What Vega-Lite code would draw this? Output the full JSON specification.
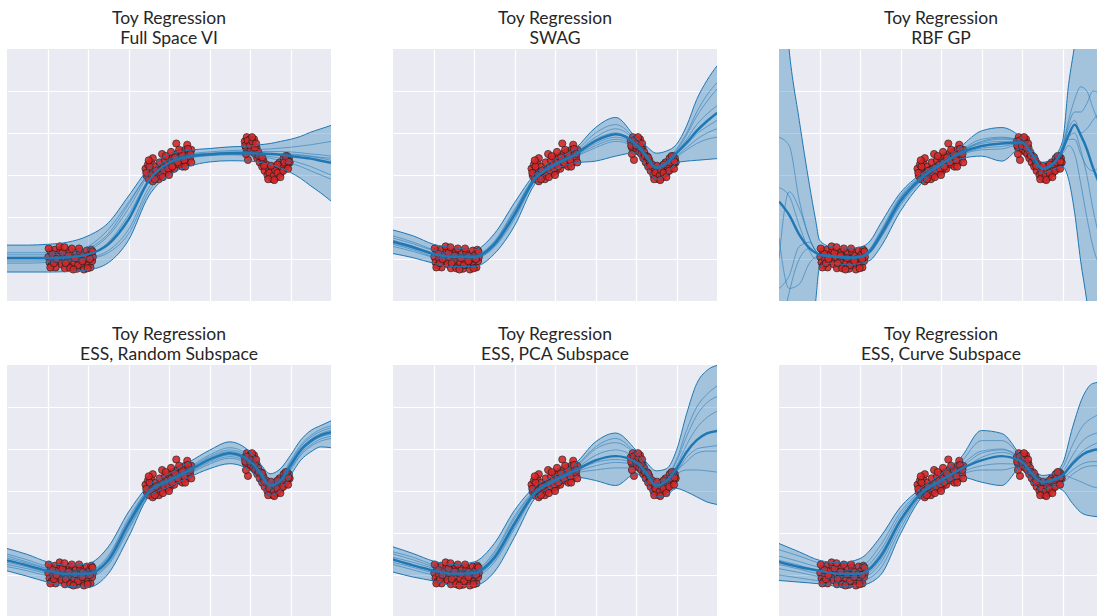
{
"$schema": "https://vega.github.io/schema/vega-lite/v6.json",
"background": "white",
"padding": {"left": 7, "top": 10, "right": 5, "bottom": 5},
"config": {
 "view": {"stroke": null, "fill": "#eaeaf2"},
 "axis": {"labels": false, "ticks": false, "domain": false, "gridColor": "#ffffff", "gridWidth": 1.2, "gridOpacity": 1},
 "title": {"font": "Lato", "fontSize": 17.5, "fontWeight": "normal", "color": "#262626", "lineHeight": 19.5, "offset": 2}
},
"datasets": {
"pts": [
{"x":1.02,"y":1.05},{"x":1.05,"y":0.92},{"x":1.08,"y":1.18},{"x":1.1,"y":0.85},{"x":1.14,"y":1.0},{"x":1.18,"y":1.22},{"x":1.2,"y":0.8},{"x":1.25,"y":1.1},{"x":1.28,"y":0.95},{"x":1.32,"y":1.2},{"x":1.35,"y":0.88},{"x":1.4,"y":1.05},{"x":1.43,"y":0.78},{"x":1.47,"y":1.15},{"x":1.5,"y":0.95},{"x":1.55,"y":1.2},{"x":1.58,"y":0.82},{"x":1.62,"y":1.05},{"x":1.66,"y":0.9},{"x":1.7,"y":1.15},{"x":1.73,"y":0.77},{"x":1.77,"y":1.0},{"x":1.8,"y":1.18},{"x":1.84,"y":0.86},{"x":1.88,"y":1.08},{"x":1.9,"y":0.75},{"x":1.93,"y":0.95},{"x":1.97,"y":1.2},{"x":2.0,"y":0.85},{"x":2.03,"y":1.1},{"x":2.06,"y":0.8},{"x":2.08,"y":1.22},{"x":2.1,"y":0.95},{"x":2.12,"y":1.05},{"x":1.12,"y":1.12},{"x":1.6,"y":1.25},{"x":1.45,"y":0.9},{"x":1.95,"y":1.02},{"x":1.3,"y":1.3},{"x":1.75,"y":0.85},
{"x":1.03,"y":1.25},{"x":1.07,"y":0.8},{"x":1.16,"y":0.9},{"x":1.22,"y":1.0},{"x":1.37,"y":1.15},{"x":1.52,"y":1.08},{"x":1.56,"y":0.78},{"x":1.68,"y":1.02},{"x":1.78,"y":1.25},{"x":1.86,"y":0.95},{"x":1.99,"y":0.78},{"x":2.05,"y":1.0},{"x":2.11,"y":1.18},{"x":1.42,"y":1.28},{"x":1.64,"y":0.75},
{"x":3.42,"y":3.15},{"x":3.45,"y":2.98},{"x":3.48,"y":3.25},{"x":3.5,"y":2.9},{"x":3.53,"y":3.1},{"x":3.56,"y":3.3},{"x":3.6,"y":2.85},{"x":3.63,"y":3.05},{"x":3.66,"y":3.2},{"x":3.7,"y":2.95},{"x":3.73,"y":3.12},{"x":3.77,"y":3.3},{"x":3.8,"y":3.0},{"x":3.83,"y":3.5},{"x":3.86,"y":3.18},{"x":3.9,"y":3.35},{"x":3.93,"y":3.05},{"x":3.96,"y":3.25},{"x":4.0,"y":3.4},{"x":4.03,"y":3.1},{"x":4.06,"y":3.3},{"x":4.1,"y":3.45},{"x":4.13,"y":3.15},{"x":4.16,"y":3.35},{"x":4.18,"y":3.75},{"x":4.2,"y":3.5},{"x":4.24,"y":3.25},{"x":4.27,"y":3.4},{"x":4.3,"y":3.55},{"x":4.33,"y":3.2},{"x":4.36,"y":3.45},{"x":4.4,"y":3.6},{"x":4.43,"y":3.3},{"x":4.45,"y":3.72},{"x":4.48,"y":3.5},{"x":4.52,"y":3.4},{"x":4.55,"y":3.6},{"x":4.05,"y":3.55},{"x":3.6,"y":3.4},
{"x":3.44,"y":3.05},{"x":3.52,"y":3.2},{"x":3.58,"y":3.0},{"x":3.68,"y":3.1},{"x":3.75,"y":2.9},{"x":3.88,"y":3.1},{"x":3.98,"y":3.15},{"x":4.08,"y":3.2},{"x":4.15,"y":3.42},{"x":4.22,"y":3.3},{"x":4.32,"y":3.5},{"x":4.38,"y":3.35},{"x":4.47,"y":3.62},{"x":4.53,"y":3.5},{"x":3.92,"y":3.45},
{"x":3.5,"y":3.35},{"x":3.65,"y":2.9},{"x":3.85,"y":2.95},{"x":4.0,"y":3.0},{"x":4.25,"y":3.6},{"x":4.4,"y":3.2},{"x":4.55,"y":3.3},
{"x":5.87,"y":3.8},{"x":5.9,"y":3.65},{"x":5.92,"y":3.9},{"x":5.95,"y":3.36},{"x":5.97,"y":3.75},{"x":6.0,"y":3.85},{"x":6.02,"y":3.6},{"x":6.05,"y":3.72},{"x":6.08,"y":3.55},{"x":6.1,"y":3.85},{"x":6.13,"y":3.5},{"x":6.16,"y":3.65},{"x":6.18,"y":3.4},{"x":6.2,"y":3.55},{"x":6.24,"y":3.3},{"x":6.27,"y":3.45},{"x":6.3,"y":3.2},{"x":6.33,"y":3.35},{"x":6.36,"y":3.1},{"x":6.4,"y":3.25},{"x":6.43,"y":3.0},{"x":6.46,"y":3.15},{"x":6.5,"y":2.95},{"x":6.53,"y":3.1},{"x":6.56,"y":2.9},{"x":6.6,"y":3.05},{"x":6.63,"y":3.2},{"x":6.66,"y":2.95},{"x":6.7,"y":3.15},{"x":6.73,"y":3.3},{"x":6.76,"y":3.05},{"x":6.8,"y":3.25},{"x":6.83,"y":3.4},{"x":6.86,"y":3.15},{"x":6.9,"y":3.35},{"x":6.93,"y":3.25},{"x":6.96,"y":3.4},{"x":6.98,"y":3.3},
{"x":5.88,"y":3.7},{"x":5.94,"y":3.82},{"x":6.0,"y":3.7},{"x":6.06,"y":3.8},{"x":6.12,"y":3.65},{"x":6.22,"y":3.45},{"x":6.35,"y":3.22},{"x":6.48,"y":3.05},{"x":6.58,"y":2.98},{"x":6.62,"y":3.12},{"x":6.68,"y":3.05},{"x":6.78,"y":3.2},{"x":6.85,"y":3.3},{"x":6.92,"y":3.45},{"x":6.95,"y":3.32},
{"x":6.45,"y":2.9},{"x":6.52,"y":3.22},{"x":6.6,"y":2.88},{"x":6.68,"y":3.25},{"x":6.75,"y":2.95},{"x":6.82,"y":3.1},{"x":6.88,"y":3.45},{"x":6.94,"y":3.15},{"x":6.3,"y":3.42},{"x":6.15,"y":3.75},{"x":6.05,"y":3.9},{"x":5.9,"y":3.5}
],
"c1": [
{"x":0,"lo":0.69,"hi":1.33,"m":1.02,"s1":1.05,"s2":0.95,"s3":1.1,"s4":0.9,"s5":1.0,"s6":1.15},
{"x":0.5,"lo":0.69,"hi":1.33,"m":1.02,"s1":1.05,"s2":0.95,"s3":1.1,"s4":0.9,"s5":1.0,"s6":1.15},
{"x":1,"lo":0.69,"hi":1.35,"m":1.02,"s1":1.05,"s2":0.96,"s3":1.1,"s4":0.92,"s5":1.0,"s6":1.15},
{"x":1.5,"lo":0.7,"hi":1.4,"m":1.04,"s1":1.08,"s2":0.98,"s3":1.12,"s4":0.95,"s5":1.02,"s6":1.17},
{"x":2,"lo":0.74,"hi":1.55,"m":1.11,"s1":1.2,"s2":1.03,"s3":1.25,"s4":1.0,"s5":1.1,"s6":1.3},
{"x":2.5,"lo":0.91,"hi":1.86,"m":1.35,"s1":1.55,"s2":1.2,"s3":1.6,"s4":1.15,"s5":1.4,"s6":1.7},
{"x":3,"lo":1.45,"hi":2.5,"m":1.94,"s1":2.2,"s2":1.7,"s3":2.3,"s4":1.6,"s5":2.05,"s6":2.35},
{"x":3.5,"lo":2.5,"hi":3.15,"m":2.86,"s1":3.0,"s2":2.7,"s3":3.05,"s4":2.6,"s5":2.9,"s6":3.02},
{"x":4,"lo":3.0,"hi":3.49,"m":3.29,"s1":3.35,"s2":3.25,"s3":3.38,"s4":3.2,"s5":3.3,"s6":3.36},
{"x":4.5,"lo":3.21,"hi":3.59,"m":3.44,"s1":3.48,"s2":3.42,"s3":3.5,"s4":3.4,"s5":3.45,"s6":3.46},
{"x":5,"lo":3.31,"hi":3.63,"m":3.49,"s1":3.52,"s2":3.47,"s3":3.55,"s4":3.46,"s5":3.5,"s6":3.5},
{"x":5.5,"lo":3.34,"hi":3.67,"m":3.52,"s1":3.55,"s2":3.49,"s3":3.58,"s4":3.48,"s5":3.53,"s6":3.5},
{"x":6,"lo":3.33,"hi":3.69,"m":3.52,"s1":3.56,"s2":3.48,"s3":3.6,"s4":3.46,"s5":3.54,"s6":3.5},
{"x":6.25,"lo":3.3,"hi":3.72,"m":3.51,"s1":3.56,"s2":3.46,"s3":3.61,"s4":3.43,"s5":3.53,"s6":3.5},
{"x":6.5,"lo":3.25,"hi":3.75,"m":3.5,"s1":3.56,"s2":3.44,"s3":3.62,"s4":3.4,"s5":3.52,"s6":3.5},
{"x":6.75,"lo":3.17,"hi":3.8,"m":3.48,"s1":3.56,"s2":3.4,"s3":3.64,"s4":3.34,"s5":3.51,"s6":3.49},
{"x":7,"lo":3.06,"hi":3.85,"m":3.45,"s1":3.55,"s2":3.35,"s3":3.66,"s4":3.28,"s5":3.5,"s6":3.48},
{"x":7.25,"lo":2.92,"hi":3.92,"m":3.42,"s1":3.53,"s2":3.28,"s3":3.69,"s4":3.2,"s5":3.48,"s6":3.46},
{"x":7.5,"lo":2.74,"hi":4.02,"m":3.39,"s1":3.5,"s2":3.2,"s3":3.72,"s4":3.1,"s5":3.45,"s6":3.44},
{"x":7.75,"lo":2.57,"hi":4.1,"m":3.34,"s1":3.48,"s2":3.1,"s3":3.76,"s4":3.0,"s5":3.42,"s6":3.4},
{"x":8,"lo":2.38,"hi":4.18,"m":3.29,"s1":3.45,"s2":3.0,"s3":3.8,"s4":2.9,"s5":3.4,"s6":3.35}
],
"c2": [
{"x":0,"lo":1.13,"hi":1.69,"m":1.41,"s1":1.5,"s2":1.35,"s3":1.45,"s4":1.3,"s5":1.55,"s6":1.38},
{"x":0.5,"lo":1.03,"hi":1.55,"m":1.28,"s1":1.36,"s2":1.22,"s3":1.3,"s4":1.18,"s5":1.4,"s6":1.25},
{"x":1,"lo":0.9,"hi":1.35,"m":1.12,"s1":1.2,"s2":1.06,"s3":1.15,"s4":1.04,"s5":1.22,"s6":1.1},
{"x":1.5,"lo":0.82,"hi":1.27,"m":1.05,"s1":1.1,"s2":1.0,"s3":1.08,"s4":0.98,"s5":1.12,"s6":1.04},
{"x":2,"lo":0.82,"hi":1.22,"m":1.05,"s1":1.08,"s2":1.02,"s3":1.07,"s4":1.0,"s5":1.1,"s6":1.04},
{"x":2.5,"lo":1.12,"hi":1.6,"m":1.35,"s1":1.38,"s2":1.3,"s3":1.4,"s4":1.28,"s5":1.42,"s6":1.33},
{"x":3,"lo":1.79,"hi":2.34,"m":2.06,"s1":2.1,"s2":2.0,"s3":2.15,"s4":1.95,"s5":2.18,"s6":2.04},
{"x":3.5,"lo":2.78,"hi":3.02,"m":2.9,"s1":2.93,"s2":2.88,"s3":2.95,"s4":2.85,"s5":2.96,"s6":2.9},
{"x":4,"lo":3.13,"hi":3.37,"m":3.25,"s1":3.27,"s2":3.22,"s3":3.28,"s4":3.2,"s5":3.3,"s6":3.24},
{"x":4.5,"lo":3.29,"hi":3.63,"m":3.49,"s1":3.52,"s2":3.45,"s3":3.5,"s4":3.43,"s5":3.56,"s6":3.47},
{"x":5,"lo":3.33,"hi":4.13,"m":3.81,"s1":3.9,"s2":3.7,"s3":3.85,"s4":3.65,"s5":4.0,"s6":3.75},
{"x":5.5,"lo":3.45,"hi":4.37,"m":3.97,"s1":4.1,"s2":3.85,"s3":4.0,"s4":3.8,"s5":4.2,"s6":3.9},
{"x":6,"lo":3.53,"hi":3.89,"m":3.73,"s1":3.8,"s2":3.68,"s3":3.75,"s4":3.65,"s5":3.82,"s6":3.7},
{"x":6.25,"lo":3.21,"hi":3.69,"m":3.45,"s1":3.5,"s2":3.42,"s3":3.47,"s4":3.4,"s5":3.52,"s6":3.44},
{"x":6.5,"lo":2.9,"hi":3.52,"m":3.17,"s1":3.2,"s2":3.14,"s3":3.18,"s4":3.12,"s5":3.22,"s6":3.16},
{"x":6.75,"lo":3.02,"hi":3.57,"m":3.28,"s1":3.32,"s2":3.24,"s3":3.3,"s4":3.22,"s5":3.35,"s6":3.27},
{"x":7,"lo":3.29,"hi":3.73,"m":3.52,"s1":3.58,"s2":3.46,"s3":3.55,"s4":3.42,"s5":3.62,"s6":3.5},
{"x":7.25,"lo":3.33,"hi":4.17,"m":3.77,"s1":3.95,"s2":3.65,"s3":3.85,"s4":3.6,"s5":4.0,"s6":3.72},
{"x":7.5,"lo":3.35,"hi":4.8,"m":4.05,"s1":4.4,"s2":3.85,"s3":4.2,"s4":3.75,"s5":4.5,"s6":3.98},
{"x":7.75,"lo":3.37,"hi":5.25,"m":4.28,"s1":4.75,"s2":4.0,"s3":4.45,"s4":3.85,"s5":4.9,"s6":4.15},
{"x":8,"lo":3.39,"hi":5.6,"m":4.48,"s1":5.05,"s2":4.1,"s3":4.65,"s4":3.9,"s5":5.2,"s6":4.3}
],
"c3": [
{"x":0,"lo":-9,"hi":9,"m":2.37,"s1":3.9,"s2":1.0,"s3":0.3,"s4":2.7,"s5":1.5,"s6":-1.0},
{"x":0.25,"lo":-6,"hi":5.98,"m":2.05,"s1":3.7,"s2":2.6,"s3":0.6,"s4":2.5,"s5":0.3,"s6":0.2},
{"x":0.5,"lo":-3,"hi":4.3,"m":1.58,"s1":2.4,"s2":2.2,"s3":1.3,"s4":1.8,"s5":0.4,"s6":1.0},
{"x":0.75,"lo":-1,"hi":2.77,"m":1.26,"s1":1.5,"s2":1.5,"s3":1.4,"s4":1.2,"s5":0.9,"s6":1.25},
{"x":0.9,"lo":-0.05,"hi":1.95,"m":1.15,"s1":1.2,"s2":1.2,"s3":1.2,"s4":1.0,"s5":1.05,"s6":1.15},
{"x":1,"lo":0.8,"hi":1.45,"m":1.1,"s1":1.1,"s2":1.12,"s3":1.08,"s4":1.02,"s5":1.08,"s6":1.1},
{"x":1.25,"lo":0.9,"hi":1.3,"m":1.07,"s1":1.1,"s2":1.04,"s3":1.08,"s4":1.05,"s5":1.06,"s6":1.09},
{"x":1.5,"lo":0.88,"hi":1.27,"m":1.05,"s1":1.08,"s2":1.02,"s3":1.06,"s4":1.03,"s5":1.04,"s6":1.07},
{"x":1.75,"lo":0.86,"hi":1.26,"m":1.03,"s1":1.06,"s2":1.0,"s3":1.04,"s4":1.01,"s5":1.02,"s6":1.05},
{"x":2,"lo":0.9,"hi":1.28,"m":1.05,"s1":1.08,"s2":1.02,"s3":1.06,"s4":1.04,"s5":1.05,"s6":1.07},
{"x":2.25,"lo":0.97,"hi":1.43,"m":1.19,"s1":1.25,"s2":1.14,"s3":1.22,"s4":1.16,"s5":1.2,"s6":1.24},
{"x":2.5,"lo":1.27,"hi":1.83,"m":1.55,"s1":1.65,"s2":1.48,"s3":1.6,"s4":1.5,"s5":1.58,"s6":1.62},
{"x":3,"lo":2.14,"hi":2.58,"m":2.38,"s1":2.5,"s2":2.28,"s3":2.44,"s4":2.32,"s5":2.42,"s6":2.46},
{"x":3.5,"lo":2.78,"hi":3.02,"m":2.91,"s1":2.98,"s2":2.85,"s3":2.95,"s4":2.88,"s5":2.93,"s6":2.96},
{"x":4,"lo":3.17,"hi":3.31,"m":3.25,"s1":3.28,"s2":3.22,"s3":3.27,"s4":3.23,"s5":3.26,"s6":3.27},
{"x":4.5,"lo":3.39,"hi":3.69,"m":3.53,"s1":3.6,"s2":3.48,"s3":3.57,"s4":3.5,"s5":3.56,"s6":3.58},
{"x":5,"lo":3.45,"hi":4.05,"m":3.69,"s1":3.85,"s2":3.6,"s3":3.78,"s4":3.64,"s5":3.75,"s6":3.8},
{"x":5.5,"lo":3.33,"hi":4.13,"m":3.75,"s1":3.9,"s2":3.62,"s3":3.85,"s4":3.68,"s5":3.8,"s6":3.88},
{"x":6,"lo":3.65,"hi":3.87,"m":3.77,"s1":3.8,"s2":3.74,"s3":3.79,"s4":3.75,"s5":3.78,"s6":3.8},
{"x":6.25,"lo":3.37,"hi":3.61,"m":3.49,"s1":3.52,"s2":3.46,"s3":3.5,"s4":3.47,"s5":3.49,"s6":3.51},
{"x":6.5,"lo":3.04,"hi":3.3,"m":3.15,"s1":3.18,"s2":3.12,"s3":3.16,"s4":3.13,"s5":3.15,"s6":3.17},
{"x":6.75,"lo":3.13,"hi":3.4,"m":3.25,"s1":3.3,"s2":3.2,"s3":3.27,"s4":3.22,"s5":3.24,"s6":3.28},
{"x":7,"lo":3.2,"hi":3.8,"m":3.6,"s1":3.7,"s2":3.55,"s3":3.65,"s4":3.55,"s5":3.5,"s6":3.6},
{"x":7.15,"lo":2.9,"hi":5.15,"m":3.95,"s1":4.3,"s2":3.9,"s3":4.2,"s4":3.85,"s5":3.7,"s6":4.1},
{"x":7.3,"lo":2.1,"hi":6.1,"m":4.2,"s1":4.8,"s2":4.0,"s3":4.5,"s4":3.85,"s5":3.5,"s6":4.3},
{"x":7.45,"lo":0.94,"hi":7.2,"m":3.95,"s1":5.1,"s2":3.6,"s3":4.5,"s4":3.5,"s5":2.8,"s6":4.0},
{"x":7.6,"lo":0.0,"hi":8.3,"m":3.62,"s1":5.0,"s2":3.0,"s3":4.7,"s4":3.2,"s5":2.0,"s6":4.1},
{"x":7.75,"lo":-1.2,"hi":9.3,"m":3.18,"s1":4.6,"s2":2.2,"s3":5.0,"s4":3.1,"s5":1.3,"s6":4.3},
{"x":8,"lo":-3,"hi":10.5,"m":2.6,"s1":4.0,"s2":1.2,"s3":4.9,"s4":3.3,"s5":0.7,"s6":4.6}
],
"c4": [
{"x":0,"lo":1.1,"hi":1.63,"m":1.35,"s1":1.45,"s2":1.25,"s3":1.4,"s4":1.3,"s5":1.5,"s6":1.2},
{"x":0.5,"lo":0.97,"hi":1.49,"m":1.23,"s1":1.31,"s2":1.15,"s3":1.28,"s4":1.19,"s5":1.36,"s6":1.1},
{"x":1,"lo":0.83,"hi":1.31,"m":1.1,"s1":1.16,"s2":1.03,"s3":1.14,"s4":1.06,"s5":1.2,"s6":0.98},
{"x":1.5,"lo":0.73,"hi":1.23,"m":1.02,"s1":1.07,"s2":0.96,"s3":1.05,"s4":0.99,"s5":1.1,"s6":0.92},
{"x":2,"lo":0.71,"hi":1.27,"m":1.03,"s1":1.08,"s2":0.97,"s3":1.06,"s4":1.0,"s5":1.1,"s6":0.94},
{"x":2.5,"lo":1.03,"hi":1.67,"m":1.35,"s1":1.42,"s2":1.28,"s3":1.38,"s4":1.32,"s5":1.46,"s6":1.24},
{"x":3,"lo":1.9,"hi":2.5,"m":2.22,"s1":2.3,"s2":2.12,"s3":2.27,"s4":2.17,"s5":2.35,"s6":2.07},
{"x":3.5,"lo":2.86,"hi":3.13,"m":2.98,"s1":3.03,"s2":2.93,"s3":3.0,"s4":2.96,"s5":3.05,"s6":2.9},
{"x":4,"lo":3.1,"hi":3.41,"m":3.25,"s1":3.29,"s2":3.2,"s3":3.28,"s4":3.22,"s5":3.32,"s6":3.18},
{"x":4.5,"lo":3.33,"hi":3.69,"m":3.49,"s1":3.54,"s2":3.44,"s3":3.52,"s4":3.46,"s5":3.57,"s6":3.41},
{"x":5,"lo":3.53,"hi":3.97,"m":3.75,"s1":3.82,"s2":3.68,"s3":3.79,"s4":3.71,"s5":3.86,"s6":3.64},
{"x":5.5,"lo":3.65,"hi":4.17,"m":3.9,"s1":3.98,"s2":3.82,"s3":3.94,"s4":3.86,"s5":4.03,"s6":3.78},
{"x":6,"lo":3.49,"hi":3.93,"m":3.71,"s1":3.78,"s2":3.64,"s3":3.75,"s4":3.67,"s5":3.82,"s6":3.6},
{"x":6.25,"lo":3.21,"hi":3.65,"m":3.43,"s1":3.5,"s2":3.36,"s3":3.47,"s4":3.39,"s5":3.54,"s6":3.32},
{"x":6.5,"lo":2.9,"hi":3.41,"m":3.13,"s1":3.2,"s2":3.06,"s3":3.17,"s4":3.1,"s5":3.24,"s6":3.02},
{"x":6.75,"lo":3.02,"hi":3.53,"m":3.24,"s1":3.3,"s2":3.17,"s3":3.28,"s4":3.2,"s5":3.34,"s6":3.13},
{"x":7,"lo":3.37,"hi":3.85,"m":3.61,"s1":3.68,"s2":3.53,"s3":3.65,"s4":3.57,"s5":3.72,"s6":3.49},
{"x":7.25,"lo":3.73,"hi":4.21,"m":3.97,"s1":4.05,"s2":3.89,"s3":4.01,"s4":3.93,"s5":4.09,"s6":3.85},
{"x":7.5,"lo":3.93,"hi":4.44,"m":4.19,"s1":4.28,"s2":4.1,"s3":4.23,"s4":4.15,"s5":4.32,"s6":4.06},
{"x":7.75,"lo":4.05,"hi":4.56,"m":4.33,"s1":4.42,"s2":4.24,"s3":4.37,"s4":4.29,"s5":4.47,"s6":4.19},
{"x":8,"lo":4.03,"hi":4.67,"m":4.4,"s1":4.5,"s2":4.3,"s3":4.45,"s4":4.35,"s5":4.55,"s6":4.25}
],
"c5": [
{"x":0,"lo":1.07,"hi":1.67,"m":1.37,"s1":1.5,"s2":1.25,"s3":1.42,"s4":1.3,"s5":1.55,"s6":1.35},
{"x":0.5,"lo":0.95,"hi":1.51,"m":1.23,"s1":1.36,"s2":1.12,"s3":1.3,"s4":1.18,"s5":1.42,"s6":1.22},
{"x":1,"lo":0.86,"hi":1.33,"m":1.11,"s1":1.2,"s2":1.0,"s3":1.16,"s4":1.05,"s5":1.24,"s6":1.08},
{"x":1.5,"lo":0.75,"hi":1.25,"m":1.03,"s1":1.1,"s2":0.94,"s3":1.07,"s4":0.98,"s5":1.13,"s6":1.0},
{"x":2,"lo":0.75,"hi":1.31,"m":1.05,"s1":1.1,"s2":0.96,"s3":1.08,"s4":1.0,"s5":1.12,"s6":1.02},
{"x":2.5,"lo":1.07,"hi":1.75,"m":1.41,"s1":1.5,"s2":1.3,"s3":1.45,"s4":1.35,"s5":1.55,"s6":1.38},
{"x":3,"lo":1.9,"hi":2.54,"m":2.22,"s1":2.35,"s2":2.1,"s3":2.28,"s4":2.15,"s5":2.4,"s6":2.2},
{"x":3.5,"lo":2.82,"hi":3.1,"m":2.95,"s1":3.0,"s2":2.9,"s3":2.98,"s4":2.92,"s5":3.02,"s6":2.94},
{"x":4,"lo":3.13,"hi":3.37,"m":3.25,"s1":3.3,"s2":3.2,"s3":3.28,"s4":3.22,"s5":3.32,"s6":3.24},
{"x":4.5,"lo":3.33,"hi":3.65,"m":3.49,"s1":3.55,"s2":3.42,"s3":3.52,"s4":3.45,"s5":3.58,"s6":3.47},
{"x":5,"lo":3.25,"hi":4.17,"m":3.73,"s1":4.0,"s2":3.5,"s3":3.85,"s4":3.6,"s5":4.05,"s6":3.68},
{"x":5.5,"lo":3.13,"hi":4.38,"m":3.83,"s1":4.15,"s2":3.55,"s3":3.98,"s4":3.68,"s5":4.25,"s6":3.75},
{"x":6,"lo":3.41,"hi":3.97,"m":3.69,"s1":3.85,"s2":3.55,"s3":3.76,"s4":3.62,"s5":3.88,"s6":3.65},
{"x":6.25,"lo":3.21,"hi":3.69,"m":3.43,"s1":3.55,"s2":3.35,"s3":3.48,"s4":3.38,"s5":3.58,"s6":3.4},
{"x":6.5,"lo":2.86,"hi":3.48,"m":3.13,"s1":3.2,"s2":3.08,"s3":3.16,"s4":3.1,"s5":3.22,"s6":3.12},
{"x":6.75,"lo":2.9,"hi":3.53,"m":3.24,"s1":3.32,"s2":3.16,"s3":3.28,"s4":3.2,"s5":3.34,"s6":3.22},
{"x":7,"lo":3.06,"hi":3.97,"m":3.53,"s1":3.7,"s2":3.4,"s3":3.6,"s4":3.45,"s5":3.75,"s6":3.48},
{"x":7.25,"lo":2.98,"hi":4.84,"m":3.93,"s1":4.3,"s2":3.5,"s3":4.1,"s4":3.8,"s5":4.45,"s6":3.7},
{"x":7.5,"lo":2.86,"hi":5.56,"m":4.21,"s1":4.8,"s2":3.5,"s3":4.5,"s4":4.0,"s5":5.0,"s6":3.9},
{"x":7.75,"lo":2.74,"hi":5.87,"m":4.37,"s1":5.1,"s2":3.48,"s3":4.75,"s4":4.05,"s5":5.3,"s6":3.95},
{"x":8,"lo":2.68,"hi":5.99,"m":4.43,"s1":5.25,"s2":3.45,"s3":4.9,"s4":4.08,"s5":5.5,"s6":3.95}
],
"c6": [
{"x":0,"lo":0.87,"hi":1.75,"m":1.31,"s1":1.6,"s2":1.0,"s3":1.45,"s4":1.15,"s5":1.25,"s6":1.35},
{"x":0.5,"lo":0.83,"hi":1.55,"m":1.19,"s1":1.45,"s2":0.93,"s3":1.32,"s4":1.06,"s5":1.14,"s6":1.23},
{"x":1,"lo":0.79,"hi":1.35,"m":1.1,"s1":1.28,"s2":0.86,"s3":1.18,"s4":0.96,"s5":1.02,"s6":1.1},
{"x":1.5,"lo":0.73,"hi":1.29,"m":1.03,"s1":1.18,"s2":0.82,"s3":1.1,"s4":0.9,"s5":0.96,"s6":1.03},
{"x":2,"lo":0.75,"hi":1.39,"m":1.03,"s1":1.2,"s2":0.85,"s3":1.12,"s4":0.92,"s5":0.97,"s6":1.05},
{"x":2.5,"lo":0.99,"hi":1.9,"m":1.43,"s1":1.7,"s2":1.15,"s3":1.58,"s4":1.27,"s5":1.35,"s6":1.5},
{"x":3,"lo":1.98,"hi":2.62,"m":2.3,"s1":2.5,"s2":2.1,"s3":2.42,"s4":2.2,"s5":2.27,"s6":2.35},
{"x":3.5,"lo":2.82,"hi":3.06,"m":2.94,"s1":3.0,"s2":2.88,"s3":2.98,"s4":2.9,"s5":2.92,"s6":2.95},
{"x":4,"lo":3.13,"hi":3.41,"m":3.25,"s1":3.35,"s2":3.18,"s3":3.3,"s4":3.2,"s5":3.23,"s6":3.27},
{"x":4.5,"lo":3.33,"hi":3.81,"m":3.53,"s1":3.7,"s2":3.4,"s3":3.62,"s4":3.45,"s5":3.5,"s6":3.56},
{"x":5,"lo":3.21,"hi":4.44,"m":3.73,"s1":4.2,"s2":3.5,"s3":3.95,"s4":3.6,"s5":3.8,"s6":3.9},
{"x":5.5,"lo":3.13,"hi":4.37,"m":3.83,"s1":4.2,"s2":3.5,"s3":4.0,"s4":3.65,"s5":3.92,"s6":3.98},
{"x":6,"lo":3.57,"hi":3.81,"m":3.69,"s1":3.78,"s2":3.6,"s3":3.74,"s4":3.63,"s5":3.7,"s6":3.72},
{"x":6.25,"lo":3.21,"hi":3.57,"m":3.4,"s1":3.5,"s2":3.3,"s3":3.46,"s4":3.35,"s5":3.42,"s6":3.44},
{"x":6.5,"lo":3.02,"hi":3.37,"m":3.21,"s1":3.3,"s2":3.08,"s3":3.25,"s4":3.15,"s5":3.2,"s6":3.22},
{"x":6.75,"lo":3.1,"hi":3.41,"m":3.25,"s1":3.35,"s2":3.15,"s3":3.3,"s4":3.2,"s5":3.26,"s6":3.28},
{"x":7,"lo":3.02,"hi":3.65,"m":3.37,"s1":3.55,"s2":3.2,"s3":3.45,"s4":3.3,"s5":3.4,"s6":3.38},
{"x":7.25,"lo":2.7,"hi":4.52,"m":3.65,"s1":4.1,"s2":3.4,"s3":3.85,"s4":3.5,"s5":3.7,"s6":3.3},
{"x":7.5,"lo":2.46,"hi":5.24,"m":3.87,"s1":4.55,"s2":3.55,"s3":4.2,"s4":3.65,"s5":3.95,"s6":3.2},
{"x":7.75,"lo":2.4,"hi":5.56,"m":3.97,"s1":4.75,"s2":3.6,"s3":4.35,"s4":3.7,"s5":4.1,"s6":3.1},
{"x":8,"lo":2.38,"hi":5.6,"m":4.0,"s1":4.85,"s2":3.6,"s3":4.4,"s4":3.7,"s5":4.2,"s6":3.05}
]
},
"columns": 3,
"spacing": {"row": 25, "column": 62},
"concat": [
{"title": {"text": ["Toy Regression", "Full Space VI"]}, "width": 324, "height": 252,
 "encoding": {"x": {"field": "x", "type": "quantitative", "scale": {"domain": [0, 8]}, "axis": {"values": [1,2,3,4,5,6,7], "title": null}}},
 "layer": [
  {"data": {"name": "c1"}, "mark": {"type": "area", "interpolate": "monotone", "color": "#1f77b4", "opacity": 0.35, "clip": true}, "encoding": {"y": {"field": "lo", "type": "quantitative", "scale": {"domain": [0, 6]}, "axis": {"values": [1,2,3,4,5], "title": null}}, "y2": {"field": "hi"}}},
  {"data": {"name": "pts"}, "mark": {"type": "circle", "size": 52, "color": "#d62728", "opacity": 0.9, "stroke": "#222222", "strokeWidth": 0.8, "clip": true}, "encoding": {"y": {"field": "y", "type": "quantitative", "scale": {"domain": [0, 6]}, "axis": {"values": [1,2,3,4,5], "title": null}}}},
  {"data": {"name": "c1"}, "transform": [{"fold": ["s1","s2","s3","s4","s5","s6"]}], "mark": {"type": "line", "interpolate": "monotone", "color": "#1f77b4", "opacity": 0.55, "strokeWidth": 1, "clip": true}, "encoding": {"y": {"field": "value", "type": "quantitative", "scale": {"domain": [0, 6]}, "axis": {"values": [1,2,3,4,5], "title": null}}, "detail": {"field": "key", "type": "nominal"}}},
  {"data": {"name": "c1"}, "transform": [{"fold": ["lo","hi"]}], "mark": {"type": "line", "interpolate": "monotone", "color": "#1f77b4", "strokeWidth": 1, "clip": true}, "encoding": {"y": {"field": "value", "type": "quantitative", "scale": {"domain": [0, 6]}, "axis": {"values": [1,2,3,4,5], "title": null}}, "detail": {"field": "key", "type": "nominal"}}},
  {"data": {"name": "c1"}, "mark": {"type": "line", "interpolate": "monotone", "color": "#1f77b4", "strokeWidth": 2.4, "clip": true}, "encoding": {"y": {"field": "m", "type": "quantitative", "scale": {"domain": [0, 6]}, "axis": {"values": [1,2,3,4,5], "title": null}}}}
 ]},
{"title": {"text": ["Toy Regression", "SWAG"]}, "width": 324, "height": 252,
 "encoding": {"x": {"field": "x", "type": "quantitative", "scale": {"domain": [0, 8]}, "axis": {"values": [1,2,3,4,5,6,7], "title": null}}},
 "layer": [
  {"data": {"name": "c2"}, "mark": {"type": "area", "interpolate": "monotone", "color": "#1f77b4", "opacity": 0.35, "clip": true}, "encoding": {"y": {"field": "lo", "type": "quantitative", "scale": {"domain": [0, 6]}, "axis": {"values": [1,2,3,4,5], "title": null}}, "y2": {"field": "hi"}}},
  {"data": {"name": "pts"}, "mark": {"type": "circle", "size": 52, "color": "#d62728", "opacity": 0.9, "stroke": "#222222", "strokeWidth": 0.8, "clip": true}, "encoding": {"y": {"field": "y", "type": "quantitative", "scale": {"domain": [0, 6]}, "axis": {"values": [1,2,3,4,5], "title": null}}}},
  {"data": {"name": "c2"}, "transform": [{"fold": ["s1","s2","s3","s4","s5","s6"]}], "mark": {"type": "line", "interpolate": "monotone", "color": "#1f77b4", "opacity": 0.55, "strokeWidth": 1, "clip": true}, "encoding": {"y": {"field": "value", "type": "quantitative", "scale": {"domain": [0, 6]}, "axis": {"values": [1,2,3,4,5], "title": null}}, "detail": {"field": "key", "type": "nominal"}}},
  {"data": {"name": "c2"}, "transform": [{"fold": ["lo","hi"]}], "mark": {"type": "line", "interpolate": "monotone", "color": "#1f77b4", "strokeWidth": 1, "clip": true}, "encoding": {"y": {"field": "value", "type": "quantitative", "scale": {"domain": [0, 6]}, "axis": {"values": [1,2,3,4,5], "title": null}}, "detail": {"field": "key", "type": "nominal"}}},
  {"data": {"name": "c2"}, "mark": {"type": "line", "interpolate": "monotone", "color": "#1f77b4", "strokeWidth": 2.4, "clip": true}, "encoding": {"y": {"field": "m", "type": "quantitative", "scale": {"domain": [0, 6]}, "axis": {"values": [1,2,3,4,5], "title": null}}}}
 ]},
{"title": {"text": ["Toy Regression", "RBF GP"]}, "width": 324, "height": 252,
 "encoding": {"x": {"field": "x", "type": "quantitative", "scale": {"domain": [0, 8]}, "axis": {"values": [1,2,3,4,5,6,7], "title": null}}},
 "layer": [
  {"data": {"name": "c3"}, "mark": {"type": "area", "interpolate": "monotone", "color": "#1f77b4", "opacity": 0.35, "clip": true}, "encoding": {"y": {"field": "lo", "type": "quantitative", "scale": {"domain": [0, 6]}, "axis": {"values": [1,2,3,4,5], "title": null}}, "y2": {"field": "hi"}}},
  {"data": {"name": "pts"}, "mark": {"type": "circle", "size": 52, "color": "#d62728", "opacity": 0.9, "stroke": "#222222", "strokeWidth": 0.8, "clip": true}, "encoding": {"y": {"field": "y", "type": "quantitative", "scale": {"domain": [0, 6]}, "axis": {"values": [1,2,3,4,5], "title": null}}}},
  {"data": {"name": "c3"}, "transform": [{"fold": ["s1","s2","s3","s4","s5","s6"]}], "mark": {"type": "line", "interpolate": "monotone", "color": "#1f77b4", "opacity": 0.55, "strokeWidth": 1, "clip": true}, "encoding": {"y": {"field": "value", "type": "quantitative", "scale": {"domain": [0, 6]}, "axis": {"values": [1,2,3,4,5], "title": null}}, "detail": {"field": "key", "type": "nominal"}}},
  {"data": {"name": "c3"}, "transform": [{"fold": ["lo","hi"]}], "mark": {"type": "line", "interpolate": "monotone", "color": "#1f77b4", "strokeWidth": 1, "clip": true}, "encoding": {"y": {"field": "value", "type": "quantitative", "scale": {"domain": [0, 6]}, "axis": {"values": [1,2,3,4,5], "title": null}}, "detail": {"field": "key", "type": "nominal"}}},
  {"data": {"name": "c3"}, "mark": {"type": "line", "interpolate": "monotone", "color": "#1f77b4", "strokeWidth": 2.4, "clip": true}, "encoding": {"y": {"field": "m", "type": "quantitative", "scale": {"domain": [0, 6]}, "axis": {"values": [1,2,3,4,5], "title": null}}}}
 ]},
{"title": {"text": ["Toy Regression", "ESS, Random Subspace"]}, "width": 324, "height": 252,
 "encoding": {"x": {"field": "x", "type": "quantitative", "scale": {"domain": [0, 8]}, "axis": {"values": [1,2,3,4,5,6,7], "title": null}}},
 "layer": [
  {"data": {"name": "c4"}, "mark": {"type": "area", "interpolate": "monotone", "color": "#1f77b4", "opacity": 0.35, "clip": true}, "encoding": {"y": {"field": "lo", "type": "quantitative", "scale": {"domain": [0, 6]}, "axis": {"values": [1,2,3,4,5], "title": null}}, "y2": {"field": "hi"}}},
  {"data": {"name": "pts"}, "mark": {"type": "circle", "size": 52, "color": "#d62728", "opacity": 0.9, "stroke": "#222222", "strokeWidth": 0.8, "clip": true}, "encoding": {"y": {"field": "y", "type": "quantitative", "scale": {"domain": [0, 6]}, "axis": {"values": [1,2,3,4,5], "title": null}}}},
  {"data": {"name": "c4"}, "transform": [{"fold": ["s1","s2","s3","s4","s5","s6"]}], "mark": {"type": "line", "interpolate": "monotone", "color": "#1f77b4", "opacity": 0.55, "strokeWidth": 1, "clip": true}, "encoding": {"y": {"field": "value", "type": "quantitative", "scale": {"domain": [0, 6]}, "axis": {"values": [1,2,3,4,5], "title": null}}, "detail": {"field": "key", "type": "nominal"}}},
  {"data": {"name": "c4"}, "transform": [{"fold": ["lo","hi"]}], "mark": {"type": "line", "interpolate": "monotone", "color": "#1f77b4", "strokeWidth": 1, "clip": true}, "encoding": {"y": {"field": "value", "type": "quantitative", "scale": {"domain": [0, 6]}, "axis": {"values": [1,2,3,4,5], "title": null}}, "detail": {"field": "key", "type": "nominal"}}},
  {"data": {"name": "c4"}, "mark": {"type": "line", "interpolate": "monotone", "color": "#1f77b4", "strokeWidth": 2.4, "clip": true}, "encoding": {"y": {"field": "m", "type": "quantitative", "scale": {"domain": [0, 6]}, "axis": {"values": [1,2,3,4,5], "title": null}}}}
 ]},
{"title": {"text": ["Toy Regression", "ESS, PCA Subspace"]}, "width": 324, "height": 252,
 "encoding": {"x": {"field": "x", "type": "quantitative", "scale": {"domain": [0, 8]}, "axis": {"values": [1,2,3,4,5,6,7], "title": null}}},
 "layer": [
  {"data": {"name": "c5"}, "mark": {"type": "area", "interpolate": "monotone", "color": "#1f77b4", "opacity": 0.35, "clip": true}, "encoding": {"y": {"field": "lo", "type": "quantitative", "scale": {"domain": [0, 6]}, "axis": {"values": [1,2,3,4,5], "title": null}}, "y2": {"field": "hi"}}},
  {"data": {"name": "pts"}, "mark": {"type": "circle", "size": 52, "color": "#d62728", "opacity": 0.9, "stroke": "#222222", "strokeWidth": 0.8, "clip": true}, "encoding": {"y": {"field": "y", "type": "quantitative", "scale": {"domain": [0, 6]}, "axis": {"values": [1,2,3,4,5], "title": null}}}},
  {"data": {"name": "c5"}, "transform": [{"fold": ["s1","s2","s3","s4","s5","s6"]}], "mark": {"type": "line", "interpolate": "monotone", "color": "#1f77b4", "opacity": 0.55, "strokeWidth": 1, "clip": true}, "encoding": {"y": {"field": "value", "type": "quantitative", "scale": {"domain": [0, 6]}, "axis": {"values": [1,2,3,4,5], "title": null}}, "detail": {"field": "key", "type": "nominal"}}},
  {"data": {"name": "c5"}, "transform": [{"fold": ["lo","hi"]}], "mark": {"type": "line", "interpolate": "monotone", "color": "#1f77b4", "strokeWidth": 1, "clip": true}, "encoding": {"y": {"field": "value", "type": "quantitative", "scale": {"domain": [0, 6]}, "axis": {"values": [1,2,3,4,5], "title": null}}, "detail": {"field": "key", "type": "nominal"}}},
  {"data": {"name": "c5"}, "mark": {"type": "line", "interpolate": "monotone", "color": "#1f77b4", "strokeWidth": 2.4, "clip": true}, "encoding": {"y": {"field": "m", "type": "quantitative", "scale": {"domain": [0, 6]}, "axis": {"values": [1,2,3,4,5], "title": null}}}}
 ]},
{"title": {"text": ["Toy Regression", "ESS, Curve Subspace"]}, "width": 324, "height": 252,
 "encoding": {"x": {"field": "x", "type": "quantitative", "scale": {"domain": [0, 8]}, "axis": {"values": [1,2,3,4,5,6,7], "title": null}}},
 "layer": [
  {"data": {"name": "c6"}, "mark": {"type": "area", "interpolate": "monotone", "color": "#1f77b4", "opacity": 0.35, "clip": true}, "encoding": {"y": {"field": "lo", "type": "quantitative", "scale": {"domain": [0, 6]}, "axis": {"values": [1,2,3,4,5], "title": null}}, "y2": {"field": "hi"}}},
  {"data": {"name": "pts"}, "mark": {"type": "circle", "size": 52, "color": "#d62728", "opacity": 0.9, "stroke": "#222222", "strokeWidth": 0.8, "clip": true}, "encoding": {"y": {"field": "y", "type": "quantitative", "scale": {"domain": [0, 6]}, "axis": {"values": [1,2,3,4,5], "title": null}}}},
  {"data": {"name": "c6"}, "transform": [{"fold": ["s1","s2","s3","s4","s5","s6"]}], "mark": {"type": "line", "interpolate": "monotone", "color": "#1f77b4", "opacity": 0.55, "strokeWidth": 1, "clip": true}, "encoding": {"y": {"field": "value", "type": "quantitative", "scale": {"domain": [0, 6]}, "axis": {"values": [1,2,3,4,5], "title": null}}, "detail": {"field": "key", "type": "nominal"}}},
  {"data": {"name": "c6"}, "transform": [{"fold": ["lo","hi"]}], "mark": {"type": "line", "interpolate": "monotone", "color": "#1f77b4", "strokeWidth": 1, "clip": true}, "encoding": {"y": {"field": "value", "type": "quantitative", "scale": {"domain": [0, 6]}, "axis": {"values": [1,2,3,4,5], "title": null}}, "detail": {"field": "key", "type": "nominal"}}},
  {"data": {"name": "c6"}, "mark": {"type": "line", "interpolate": "monotone", "color": "#1f77b4", "strokeWidth": 2.4, "clip": true}, "encoding": {"y": {"field": "m", "type": "quantitative", "scale": {"domain": [0, 6]}, "axis": {"values": [1,2,3,4,5], "title": null}}}}
 ]}
]
}
